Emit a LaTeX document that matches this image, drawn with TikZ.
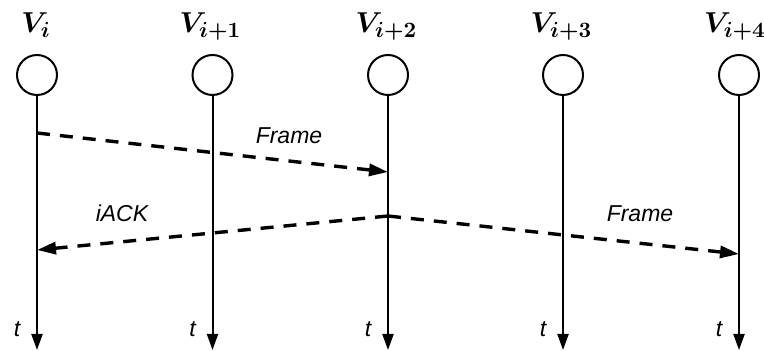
\documentclass[tikz,border=0pt]{standalone}
\usepackage{fontspec}
\setsansfont{Liberation Sans}
\usetikzlibrary{arrows.meta}
\begin{document}
\begin{tikzpicture}[x=0.5pt,y=-0.5pt,
  station/.style={circle,draw,line width=1pt,minimum size=20pt,inner sep=0pt},
  timeline/.style={line width=1pt,-{Triangle[length=8pt,width=5.5pt]}},
  msg/.style={line width=1.7pt,dash pattern=on 6.5pt off 5pt,-{Triangle[length=9.5pt,width=6pt]}},
  vlabel/.style={font=\fontsize{15.5}{18}\selectfont\boldmath,anchor=base,inner sep=0pt},
  lbl/.style={font=\sffamily\itshape\fontsize{11.5}{14}\selectfont,anchor=base,inner sep=0pt},
]
\useasboundingbox (0,0) rectangle (764,351);
\foreach \i/\x/\lx/\s in {0/37/36/i,1/212.5/210.5/i+1,2/388/386.5/i+2,3/563/561.5/i+3,4/739/735/i+4}{
  \node[station] (v\i) at (\x,75) {};
  \node[vlabel] (l\i) at (\lx,33) {$V_{\s}$};
  \coordinate (e\i) at (\x,350);
  \draw[timeline] (v\i) -- (e\i);
  \node[lbl] (t\i) at ({\x-20},337) {t};
}
\coordinate (a1) at (37,133);
\coordinate (a2) at (388,172);
\coordinate (b) at (388,216);
\coordinate (b1) at (37,250);
\coordinate (b2) at (739,254);
\draw[msg] (a1) -- (a2);
\draw[msg] (b) -- (b1);
\draw[msg] (b) -- (b2);
\node[lbl] (f1) at (289,144) {Frame};
\node[lbl] (ack) at (122,222) {iACK};
\node[lbl] (f2) at (640,222) {Frame};
\end{tikzpicture}
\end{document}
